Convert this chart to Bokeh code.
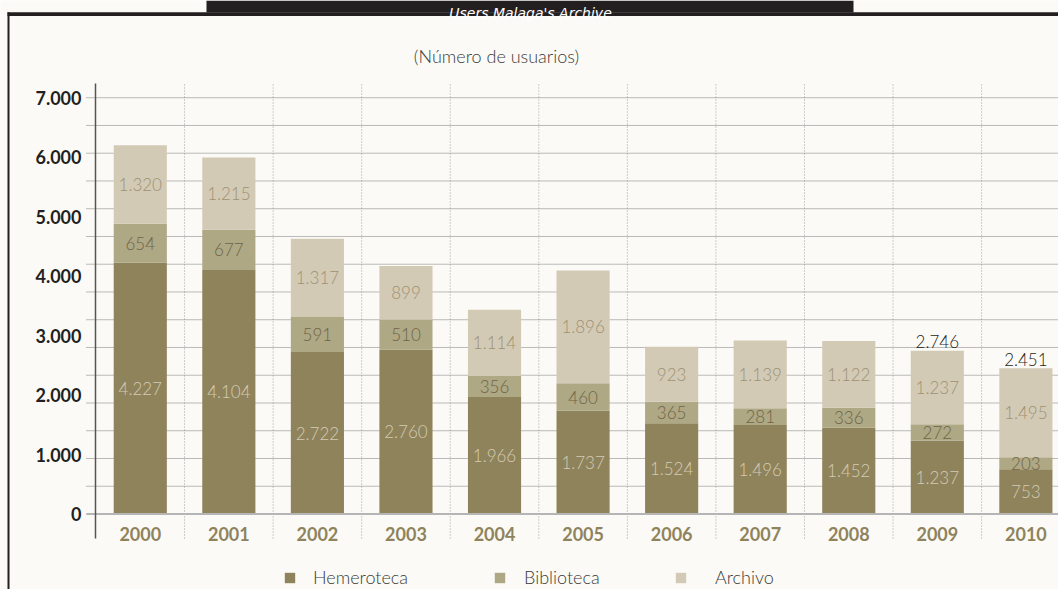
from bokeh.plotting import figure
from bokeh.models import (Range1d, Label, BoxAnnotation, Legend, LegendItem,
                          ColumnDataSource)
from bokeh.core.properties import value
from bokeh.embed import file_html
from bokeh.resources import INLINE

# ---------------- data ----------------
years = ["2000", "2001", "2002", "2003", "2004", "2005",
         "2006", "2007", "2008", "2009", "2010"]
hemeroteca = [4227, 4104, 2722, 2760, 1966, 1737, 1524, 1496, 1452, 1237, 753]
biblioteca = [654, 677, 591, 510, 356, 460, 365, 281, 336, 272, 203]
archivo = [1320, 1215, 1317, 899, 1114, 1896, 923, 1139, 1122, 1237, 1495]
series_names = ["Hemeroteca", "Biblioteca", "Archivo"]
total_label_years = ["2009", "2010"]
y_tick_values = [0, 1000, 2000, 3000, 4000, 5000, 6000, 7000]
y_tick_labels = ["0", "1.000", "2.000", "3.000", "4.000", "5.000", "6.000", "7.000"]
title_text = "(Número de usuarios)"
banner_text = "Users Malaga's Archive"

# ---------------- style / geometry ----------------
W, H = 1058, 589
BG = "#fbfaf6"
DARK = "#231f20"
bar_colors = ["#8f835c", "#aea885", "#d3cab6"]
value_colors = ["#d4cbb3", "#6f6547", "#9d9272"]
year_color = "#8f835c"
LIGHT = "Lato Light"
BOLD = "Lato"

PX_PER_CAT = 88.56      # pixel width of one category slot
X0_PX = 95.5            # pixel x of the left edge of the first slot
Y0_PX = 513.5           # pixel y of value 0
PX_PER_UNIT = 59.47 / 1000.0

def px_to_x(px):
    return -0.5 + (px - X0_PX) / PX_PER_CAT

def px_to_y(py):
    return (Y0_PX - py) / PX_PER_UNIT

def fmt(v):
    return f"{v:,}".replace(",", ".")

x = list(range(len(years)))
series = [hemeroteca, biblioteca, archivo]
source = ColumnDataSource(dict(x=x, Hemeroteca=hemeroteca,
                               Biblioteca=biblioteca, Archivo=archivo))

grid_n = 15
grid_ticks = [y_tick_values[-1] * i / grid_n for i in range(grid_n + 1)]

p = figure(width=W, height=H,
           x_range=Range1d(px_to_x(0), px_to_x(W)),
           y_range=Range1d(px_to_y(H), px_to_y(0)),
           x_axis_location=None, y_axis_location=None,
           output_backend="svg", toolbar_location=None,
           min_border=0, background_fill_color=BG, border_fill_color=BG,
           outline_line_color=None)
p.grid.visible = False

axis_top, axis_bottom = px_to_y(83), px_to_y(538)
grid_left = px_to_x(86)
axis_x = px_to_x(95)

# vertical dotted separators between years
sep_x = [i + 0.5 for i in x[:-1]]
p.segment(x0=sep_x, x1=sep_x, y0=[axis_bottom] * len(sep_x),
          y1=[axis_top] * len(sep_x), line_color="#a0a0a0", line_width=1,
          line_dash="1 2")
# horizontal dotted grid
p.segment(x0=[grid_left] * len(grid_ticks), x1=[px_to_x(W)] * len(grid_ticks),
          y0=grid_ticks, y1=grid_ticks, line_color="#7a7a7a", line_width=1,
          line_dash="1 1")

# bars
renderers = p.vbar_stack(series_names, x="x", width=0.6, source=source,
                         fill_color=bar_colors, line_color=None)

# baseline and y axis line
p.segment(x0=[grid_left], x1=[px_to_x(W)], y0=[0], y1=[0],
          line_color="#b5b5b5", line_width=2)
p.segment(x0=[axis_x], x1=[axis_x], y0=[axis_bottom], y1=[axis_top],
          line_color="#555555", line_width=1.5)

# y tick labels
p.text(x=[axis_x] * len(y_tick_values), y=y_tick_values, text=y_tick_labels,
       x_offset=-14, text_align="right", text_baseline="middle",
       text_color=DARK, text_font=value(BOLD), text_font_style="bold",
       text_font_size="18px")
# year labels
p.text(x=x, y=[0] * len(x), text=years, y_offset=20, text_align="center",
       text_baseline="middle", text_color=year_color, text_font=value(BOLD),
       text_font_style="bold", text_font_size="18px")

# value labels inside segments
bottoms = [0] * len(x)
for vals, col in zip(series, value_colors):
    ys = [b + v / 2 for b, v in zip(bottoms, vals)]
    p.text(x=x, y=ys, text=[fmt(v) for v in vals], text_color=col,
           text_align="center", text_baseline="middle",
           text_font=value(LIGHT), text_font_size="17px")
    bottoms = [b + v for b, v in zip(bottoms, vals)]

# totals for selected years
tx = [x[years.index(yv)] for yv in total_label_years]
ty = [bottoms[years.index(yv)] for yv in total_label_years]
p.text(x=tx, y=ty, text=[fmt(v) for v in ty], text_color=DARK,
       text_align="center", text_baseline="alphabetic", y_offset=-9,
       text_font=value(LIGHT), text_font_size="17px")

# frame lines and banner (screen units: from left, from bottom)
def box(l, r, t, b):
    return BoxAnnotation(left=l, right=r, top=H - t, bottom=H - b,
                         left_units="screen", right_units="screen",
                         top_units="screen", bottom_units="screen",
                         fill_color=DARK, fill_alpha=1, line_color=None)

p.add_layout(box(206, 853, 0, 12))      # banner
p.add_layout(box(7, W, 11.7, 15.5))     # top rule
p.add_layout(box(7, 9, 11.7, H))        # left rule
p.add_layout(Label(x=530, y=H - 12, x_units="screen", y_units="screen",
                   text=banner_text, text_align="center",
                   text_baseline="alphabetic", text_color="white",
                   text_font="DejaVu Sans", text_font_style="italic",
                   text_font_size="14px"))

p.add_layout(Label(x=496, y=H - 55, x_units="screen", y_units="screen",
                   text=title_text, text_align="center",
                   text_baseline="alphabetic", text_color="#3a3a3a",
                   text_font=LIGHT, text_font_size="18px"))

# legends (one per series, laid out along the bottom)
legend_x = [283, 493, 674]
legend_standoff = [17, 18, 28]
for name, r, lx, ls in zip(series_names, renderers, legend_x, legend_standoff):
    lg = Legend(items=[LegendItem(label=name, renderers=[r])],
                location=(lx, 1), orientation="horizontal",
                glyph_width=13, glyph_height=13, label_height=13,
                label_standoff=ls, padding=0, margin=0, spacing=0,
                border_line_color=None, background_fill_alpha=0,
                label_text_font=LIGHT, label_text_font_size="18px",
                label_text_color="#3a3a3a")
    p.add_layout(lg, "center")

open("out.html", "w").write(file_html(p, INLINE))
